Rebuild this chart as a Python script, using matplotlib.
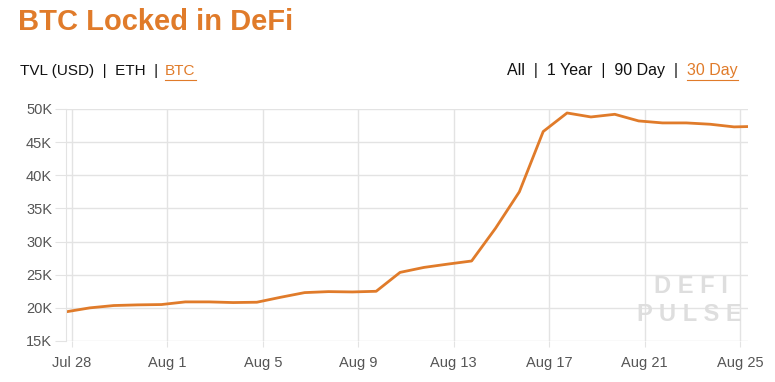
from datetime import datetime, timedelta
import matplotlib
matplotlib.use("Agg")
import matplotlib.pyplot as plt
import matplotlib.dates as mdates
from matplotlib.ticker import FuncFormatter

orange = "#E07B2A"

# BTC locked, thousands, one reading per day (~18:00) plus the latest reading
start = datetime(2020, 7, 27, 18)
btc_k = [19.4, 20.0, 20.35, 20.45, 20.5, 20.9, 20.9, 20.8, 20.85, 21.6,
         22.3, 22.45, 22.4, 22.5, 25.35, 26.1, 26.6, 27.07, 32.0, 37.5,
         46.6, 49.4, 48.8, 49.2, 48.2, 47.9, 47.9, 47.7, 47.3]
last_time = datetime(2020, 8, 25, 8)
last_k = 47.35

days = [start + timedelta(days=i) for i in range(len(btc_k))] + [last_time]
vals = btc_k + [last_k]

tick_days = [datetime(2020, 7, 28), datetime(2020, 8, 1), datetime(2020, 8, 5),
             datetime(2020, 8, 9), datetime(2020, 8, 13), datetime(2020, 8, 17),
             datetime(2020, 8, 21), datetime(2020, 8, 25)]
y_ticks = [15, 20, 25, 30, 35, 40, 45, 50]

plt.rcParams["font.family"] = ["Liberation Sans", "DejaVu Sans"]

fig = plt.figure(figsize=(7.75, 3.82), dpi=100)
ax = fig.add_axes([66 / 775, 41 / 382, 682 / 775, 232 / 382])

ax.plot(days, vals, color=orange, lw=2.0, solid_joinstyle="round")

ax.set_ylim(15, 50)
ax.set_xlim(days[0], days[-1])
ax.set_yticks(y_ticks)
ax.yaxis.set_major_formatter(FuncFormatter(lambda v, p: f"{int(v)}K"))
ax.set_xticks(tick_days)
ax.xaxis.set_major_formatter(mdates.DateFormatter("%b %-d"))

grid_c = "#e3e3e3"
ax.grid(True, color=grid_c, lw=1.0)
ax.set_axisbelow(True)
for s in ["top", "right", "bottom"]:
    ax.spines[s].set_visible(False)
ax.spines["left"].set_color(grid_c)
ax.tick_params(axis="y", length=8, color=grid_c, labelsize=10.5, labelcolor="#555555", pad=2)
ax.tick_params(axis="x", length=4.5, color=grid_c, labelsize=10.5, labelcolor="#555555", pad=6)

# watermark
ax.text(0.971, 0.235, "D E F I", transform=ax.transAxes, ha="right", va="center",
        fontsize=17, color="#dedede", fontweight="bold")
ax.text(0.991, 0.115, "P U L S E", transform=ax.transAxes, ha="right", va="center",
        fontsize=17, color="#dedede", fontweight="bold")

# header
fig.text(18 / 775, 1 - 22 / 382, "BTC Locked in DeFi", fontsize=21, fontweight="bold",
         color=orange, ha="left", va="center")

fig.text(20 / 775, 1 - 71 / 382, "TVL (USD)  |  ETH  |  ", fontsize=11, color="#111111",
         ha="left", va="center")
fig.text(165 / 775, 1 - 71 / 382, "BTC", fontsize=11, color=orange, ha="left", va="center")
fig.add_artist(plt.Line2D([165 / 775, 196 / 775], [1 - 80 / 382] * 2, color=orange, lw=0.8))

# right-hand range selector, laid out right to left
renderer = fig.canvas.get_renderer()
sel = fig.text(738 / 775, 1 - 71 / 382, "30 Day", fontsize=11.5, color=orange,
               ha="right", va="center")
bb = sel.get_window_extent(renderer)
fig.add_artist(plt.Line2D([bb.x0 / 775, 738 / 775], [1 - 80 / 382] * 2, color=orange, lw=0.8))
fig.text(bb.x0 / 775, 1 - 71 / 382, "All  |  1 Year  |  90 Day  |  ", fontsize=11.5,
         color="#111111", ha="right", va="center")

fig.savefig("out.png", dpi=100)
